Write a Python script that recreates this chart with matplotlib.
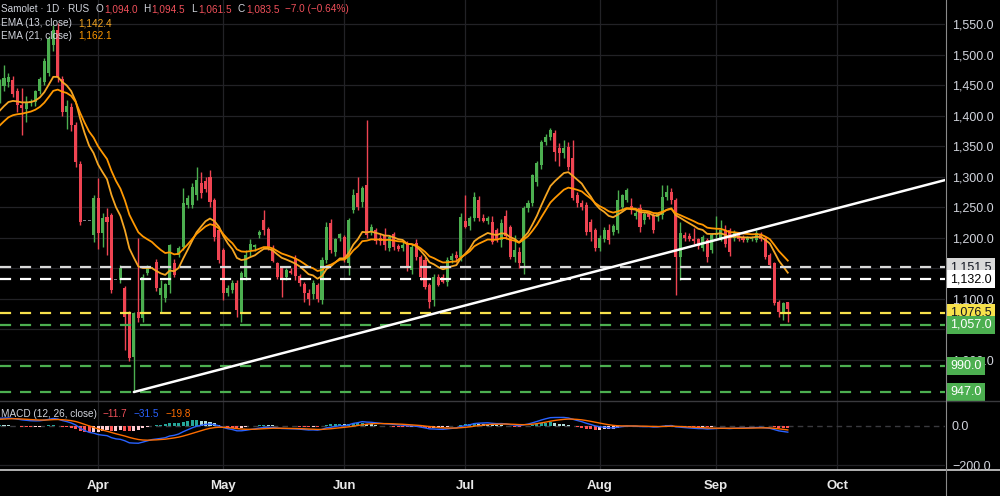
import numpy as np
import matplotlib.pyplot as plt
import matplotlib.transforms as mtransforms
from matplotlib.lines import Line2D

plt.rcParams['font.family'] = ['Liberation Sans', 'DejaVu Sans']

## Daily bars, oldest first (last bar = the one in the header)
opens = [1428, 1448, 1455, 1458, 1440, 1417, 1410, 1420, 1422, 1440, 1455, 1470, 1515, 1540, 1460, 1406, 1414, 1384, 1320, 1228,
         1228, 1205, 1265, 1208, 1234, 1237, 1131, 1131, 1117, 1076, 1004, 1078, 1068, 1142, 1150, 1160, 1106, 1101, 1122, 1158,
         1172, 1185, 1253, 1253, 1270, 1290, 1292, 1300, 1262, 1212, 1180, 1109, 1114, 1126, 1076, 1136, 1180, 1185, 1205, 1229,
         1214, 1183, 1158, 1150, 1135, 1145, 1166, 1137, 1124, 1110, 1108, 1122, 1098, 1163, 1224, 1176, 1200, 1201, 1158, 1245,
         1273, 1258, 1286, 1209, 1212, 1200, 1205, 1183, 1206, 1186, 1183, 1191, 1147, 1191, 1168, 1163, 1122, 1098, 1136, 1135,
         1127, 1163, 1172, 1168, 1228, 1219, 1232, 1262, 1232, 1228, 1226, 1212, 1196, 1236, 1217, 1168, 1176, 1158, 1248, 1257,
         1291, 1319, 1357, 1365, 1371, 1346, 1339, 1349, 1331, 1270, 1257, 1253, 1225, 1212, 1183, 1198, 1212, 1209, 1212, 1250,
         1262, 1252, 1235, 1249, 1229, 1238, 1237, 1234, 1237, 1267, 1275, 1262, 1168, 1205, 1203, 1198, 1198, 1183, 1196, 1180,
         1205, 1200, 1212, 1212, 1200, 1205, 1201, 1196, 1198, 1196, 1205, 1199, 1172, 1158, 1095, 1078, 1094.0]
highs = [1460, 1483, 1470, 1465, 1445, 1445, 1432, 1427, 1442, 1463, 1495, 1530, 1548, 1552, 1465, 1425, 1420, 1390, 1325, 1228,
         1228, 1270, 1298, 1240, 1248, 1240, 1131, 1155, 1120, 1080, 1078, 1200, 1140, 1155, 1150, 1165, 1131, 1126, 1190, 1165,
         1186, 1281, 1270, 1290, 1316, 1307, 1300, 1310, 1265, 1215, 1183, 1122, 1130, 1130, 1145, 1180, 1198, 1190, 1212, 1245,
         1218, 1188, 1160, 1152, 1150, 1150, 1172, 1140, 1128, 1115, 1130, 1125, 1168, 1225, 1230, 1200, 1208, 1205, 1232, 1280,
         1300, 1285, 1393, 1222, 1215, 1206, 1215, 1205, 1210, 1190, 1192, 1195, 1190, 1198, 1172, 1168, 1125, 1140, 1140, 1140,
         1168, 1175, 1178, 1240, 1270, 1235, 1275, 1268, 1238, 1236, 1235, 1215, 1230, 1245, 1220, 1205, 1185, 1252, 1262, 1305,
         1325, 1360, 1370, 1380, 1376, 1355, 1360, 1357, 1360, 1275, 1262, 1258, 1230, 1215, 1205, 1218, 1222, 1222, 1278, 1272,
         1282, 1265, 1245, 1255, 1242, 1242, 1240, 1240, 1286, 1286, 1282, 1265, 1225, 1210, 1208, 1215, 1200, 1205, 1200, 1208,
         1235, 1229, 1220, 1215, 1212, 1210, 1205, 1202, 1202, 1212, 1210, 1202, 1175, 1160, 1098, 1095, 1094.5]
lows = [1420, 1440, 1447, 1430, 1405, 1368, 1390, 1416, 1415, 1436, 1450, 1465, 1505, 1455, 1400, 1378, 1375, 1315, 1220, 1228,
        1228, 1192, 1182, 1185, 1171, 1110, 1131, 1125, 1016, 998, 947, 1062, 1062, 1138, 1150, 1112, 1076, 1095, 1110, 1135,
        1168, 1180, 1248, 1248, 1262, 1265, 1275, 1250, 1195, 1158, 1098, 1104, 1110, 1070, 1062, 1130, 1170, 1178, 1200, 1205,
        1180, 1160, 1133, 1102, 1130, 1140, 1130, 1120, 1095, 1090, 1100, 1095, 1092, 1158, 1175, 1170, 1195, 1160, 1138, 1240,
        1245, 1250, 1200, 1205, 1190, 1188, 1180, 1178, 1180, 1178, 1178, 1145, 1140, 1163, 1130, 1115, 1085, 1088, 1120, 1125,
        1120, 1158, 1160, 1162, 1215, 1212, 1228, 1228, 1225, 1222, 1190, 1192, 1185, 1198, 1165, 1160, 1150, 1140, 1242, 1252,
        1285, 1312, 1352, 1360, 1325, 1318, 1330, 1310, 1262, 1250, 1245, 1205, 1195, 1178, 1178, 1192, 1190, 1205, 1208, 1245,
        1258, 1238, 1230, 1210, 1222, 1230, 1208, 1228, 1230, 1262, 1255, 1106, 1131, 1195, 1195, 1190, 1182, 1178, 1160, 1175,
        1200, 1195, 1185, 1170, 1195, 1195, 1192, 1192, 1195, 1192, 1195, 1165, 1150, 1090, 1070, 1065, 1061.5]
closes = [1447, 1462, 1463, 1435, 1418, 1412, 1422, 1424, 1440, 1460, 1490, 1525, 1540, 1463, 1406, 1415, 1384, 1324, 1225, 1228,
          1228, 1265, 1208, 1232, 1226, 1114, 1131, 1150, 1070, 1003, 1076, 1068, 1135, 1150, 1150, 1117, 1117, 1124, 1188, 1139,
          1183, 1257, 1265, 1283, 1294, 1273, 1280, 1258, 1201, 1163, 1110, 1117, 1126, 1081, 1142, 1172, 1190, 1188, 1210, 1212,
          1183, 1162, 1135, 1133, 1147, 1142, 1137, 1125, 1110, 1100, 1126, 1100, 1163, 1217, 1180, 1198, 1206, 1166, 1229, 1270,
          1250, 1281, 1204, 1218, 1195, 1195, 1188, 1201, 1184, 1181, 1188, 1152, 1185, 1168, 1135, 1119, 1095, 1136, 1123, 1128,
          1163, 1170, 1166, 1234, 1218, 1232, 1267, 1232, 1228, 1232, 1193, 1196, 1224, 1202, 1168, 1180, 1158, 1248, 1257, 1302,
          1322, 1357, 1365, 1376, 1340, 1339, 1346, 1316, 1265, 1257, 1250, 1209, 1209, 1183, 1199, 1212, 1196, 1219, 1262, 1270,
          1278, 1245, 1240, 1217, 1238, 1234, 1212, 1238, 1267, 1275, 1262, 1168, 1207, 1200, 1198, 1194, 1186, 1201, 1168, 1204,
          1208, 1212, 1190, 1176, 1208, 1198, 1196, 1199, 1200, 1208, 1198, 1168, 1155, 1093, 1078, 1093, 1083.5]

## EMA / MACD values at the left edge of the chart (history before it is not shown)
ema13_start, ema21_start = 1401.0, 1377.0
ema12_start, ema26_start, signal_start = 1405.0, 1366.0, 33.0

## Header values as printed on the chart
header_ohlc = ['1,094.0', '1,094.5', '1,061.5', '1,083.5']
header_change = '\u22127.0 (\u22120.64%)'
ema13_label, ema21_label = '1,142.4', '1,162.1'
macd_labels = ['\u221211.7', '\u221231.5', '\u221219.8']

months = ['Apr', 'May', 'Jun', 'Jul', 'Aug', 'Sep', 'Oct']
month_bars = [22, 50, 77, 104, 134, 160, 187]

price_ticks = [1000, 1100, 1200, 1250, 1300, 1350, 1400, 1450, 1500, 1550]
level_prices = [1151.5, 1132.0, 1076.5, 1057.0, 990.0, 947.0]
level_colors = ['#d9d9d9', '#ffffff', '#f7e14b', '#4caf50', '#4caf50', '#4caf50']
level_text_colors = ['#131722', '#000000', '#131722', '#ffffff', '#ffffff', '#ffffff']

trend_bars = [30, 212]
trend_prices = [947, 1296]


def ema(values, start, n):
    a = 2.0 / (n + 1)
    out, e = [], start
    for v in values:
        e = e + a * (v - e)
        out.append(e)
    return np.array(out)


o = np.array(opens, float)
h = np.array(highs, float)
l = np.array(lows, float)
c = np.array(closes, float)
idx = np.arange(len(c))

ema13 = ema(c, ema13_start, 13)
ema21 = ema(c, ema21_start, 21)
macd = ema(c, ema12_start, 12) - ema(c, ema26_start, 26)
signal = ema(macd, signal_start, 9)
hist = macd - signal

BG = '#000000'
TXT = '#d1d4dc'
GRID = '#222226'
UP, DOWN, FLAT = '#4caf50', '#ef4452', '#787b86'

fig = plt.figure(figsize=(10, 4.96), dpi=100, facecolor=BG)
ax = fig.add_axes([0, 1 - 401 / 496, 0.945, 401 / 496], facecolor=BG)
ax2 = fig.add_axes([0, 1 - 470 / 496, 0.945, 69 / 496], facecolor=BG, sharex=ax)

## grid
for m in month_bars:
    ax.axvline(m, color=GRID, lw=0.9, zorder=0)
    ax2.axvline(m, color=GRID, lw=0.9, zorder=0)
for p in range(1000, 1600, 50):
    ax.axhline(p, color=GRID, lw=0.9, zorder=0)
ax2.axhline(-200, color=GRID, lw=0.9, zorder=0)

## candles
cols = [UP if cc > oo else (DOWN if cc < oo else FLAT) for oo, cc in zip(o, c)]
ax.vlines(idx, l, h, colors=cols, lw=1.0, zorder=3)
body = np.maximum(np.abs(c - o), 1.5)
ax.bar(idx, body, bottom=np.minimum(o, c), width=0.68, color=cols, zorder=4, linewidth=0)

## EMAs
ax.plot(idx, ema13, color='#f5a623', lw=1.3, zorder=5)
ax.plot(idx, ema21, color='#ff9800', lw=1.3, zorder=5)

## horizontal levels (drawn over the candles, like chart drawings)
for p, col in zip(level_prices, level_colors):
    ax.axhline(p, color=col, lw=1.6, ls=(0, (5, 4)), zorder=7)

## trendline
ax.plot(trend_bars, trend_prices, color='white', lw=1.8, zorder=8, solid_capstyle='round')

ax.set_xlim(0.11, 211.1)
ax.set_ylim(932.3, 1589.3)

## right price scale
ax.yaxis.tick_right()
ax.set_yticks(price_ticks)
ax.set_yticklabels([f'{p:,.1f}' for p in price_ticks])
ax.tick_params(axis='y', length=0, pad=5, labelsize=9, labelcolor=TXT)
ax.tick_params(axis='x', length=0, labelbottom=False)
trans = mtransforms.blended_transform_factory(ax.transAxes, ax.transData)
for p, bg, tc in zip(level_prices, level_colors, level_text_colors):
    ax.text(1.0053, p, f'{p:,.1f}', transform=trans, va='center', ha='left', fontsize=9,
            color=tc, clip_on=False, zorder=10,
            bbox=dict(boxstyle='square,pad=0.25', fc=bg, ec='none'))

for s in ['top', 'left', 'bottom', 'right']:
    ax.spines[s].set_visible(False)

## MACD pane
hcols = []
for k in range(len(hist)):
    prev = hist[k - 1] if k > 0 else hist[k]
    if hist[k] >= 0:
        hcols.append('#26a69a' if hist[k] >= prev else '#b2dfdb')
    else:
        hcols.append('#ff5252' if hist[k] < prev else '#ffcdd2')
ax2.axhline(0, color='#3a3a3e', lw=1.0, ls=(0, (4, 3)), zorder=1)
ax2.bar(idx, hist, width=0.68, color=hcols, zorder=2, linewidth=0)
ax2.plot(idx, macd, color='#2962ff', lw=1.0, zorder=3)
ax2.plot(idx, signal, color='#ff6d00', lw=1.0, zorder=3)
ax2.set_ylim(-225.6, 128)
ax2.yaxis.tick_right()
ax2.set_yticks([0, -200])
ax2.set_yticklabels(['0.0', '\u2212200.0'])
ax2.tick_params(axis='y', length=0, pad=5, labelsize=9, labelcolor=TXT)
ax2.set_xticks(month_bars)
ax2.set_xticklabels(months)
ax2.tick_params(axis='x', length=0, pad=7, labelsize=9.5, labelcolor='#e8e8e8')
for t in ax2.get_xticklabels():
    t.set_fontweight('bold')
for s in ['top', 'left', 'bottom', 'right']:
    ax2.spines[s].set_visible(False)
ax2.set_xlim(0.11, 211.1)

## pane separators and price-scale border, full width / height like the app
fig.add_artist(Line2D([0, 1], [1 - 401 / 496] * 2, color='#3a3a3e', lw=1.0))
fig.add_artist(Line2D([0, 1], [1 - 470 / 496] * 2, color='#d0d0d0', lw=1.2))
fig.add_artist(Line2D([0.9455, 0.9455], [0, 1], color='#8a8a8a', lw=0.8))

## header texts, laid out piece by piece
renderer = fig.canvas.get_renderer()


def line_text(x, y, pieces, size=7.2):
    x = x / 1000
    for s, col, gap in pieces:
        t = fig.text(x, 1 - y / 496, s, color=col, fontsize=size, va='center', ha='left')
        w = t.get_window_extent(renderer).width
        x += (w + gap) / 1000


RED = '#f0505a'
head = [('Samolet \u00b7 1D \u00b7 RUS', TXT, 6)]
for letter, val in zip('OHLC', header_ohlc):
    head += [(letter, TXT, 1), (val, RED, 6)]
head += [(header_change, RED, 0)]
line_text(1, 9, head)
line_text(1, 23, [('EMA (13, close)', TXT, 6), (ema13_label, '#f5a623', 0)])
line_text(1, 36, [('EMA (21, close)', TXT, 6), (ema21_label, '#ff9800', 0)])
line_text(1, 414, [('MACD (12, 26, close)', TXT, 6), (macd_labels[0], '#f0505a', 6),
                   (macd_labels[1], '#2962ff', 6), (macd_labels[2], '#ff6d00', 0)])

plt.savefig('out.png', dpi=100, facecolor=BG)
